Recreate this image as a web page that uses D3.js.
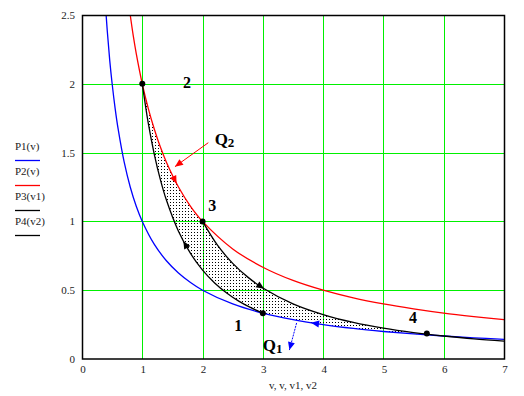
<!DOCTYPE html>
<html>
<head>
<meta charset="utf-8">
<script src="https://cdn.jsdelivr.net/npm/d3@7"></script>
<style>
  body { margin: 0; background: #fff; }
</style>
</head>
<body>
<script>
const overallWidth = 524
const overallHeight = 396
const margin = { left: 82, top: 15, right: 20, bottom: 37 }
const width = overallWidth - margin.left - margin.right
const height = overallHeight - margin.top - margin.bottom

// isotherm P1(v), blue
const blueV = [0.38, 0.42, 0.46, 0.5, 0.55, 0.6, 0.7, 0.8, 0.9, 1, 1.2, 1.4, 1.6, 1.8, 2, 2.5, 3, 3.5, 4, 4.5, 5, 5.5, 6, 6.5, 7]
const blueP = [2.63, 2.38, 2.17, 2.0, 1.82, 1.67, 1.43, 1.25, 1.11, 1.0, 0.833, 0.714, 0.625, 0.556, 0.5, 0.4, 0.333, 0.286, 0.25, 0.222, 0.2, 0.182, 0.167, 0.154, 0.143]
// isotherm P2(v), red
const redV = [0.76, 0.8, 0.85, 0.9, 1, 1.1, 1.2, 1.3, 1.4, 1.6, 1.8, 2, 2.5, 3, 3.5, 4, 4.5, 5, 5.5, 6, 6.5, 7]
const redP = [2.63, 2.5, 2.35, 2.22, 2.0, 1.82, 1.67, 1.54, 1.43, 1.25, 1.11, 1.0, 0.8, 0.667, 0.571, 0.5, 0.444, 0.4, 0.364, 0.333, 0.308, 0.286]
// adiabat P3(v1), black, 2 -> 1
const p3V = [1, 1.1, 1.2, 1.3, 1.4, 1.6, 1.8, 2, 2.2, 2.4, 2.6, 2.8, 3]
const p3P = [2.0, 1.712, 1.486, 1.304, 1.155, 0.929, 0.767, 0.646, 0.553, 0.48, 0.421, 0.373, 0.333]
// adiabat P4(v2), black, 3 -> 4
const p4V = [2, 2.25, 2.5, 2.75, 3, 3.5, 4, 4.5, 5, 5.5, 6, 6.5, 7]
const p4P = [1.0, 0.825, 0.695, 0.595, 0.516, 0.401, 0.323, 0.266, 0.224, 0.192, 0.167, 0.146, 0.13]

const xTicks = [0, 1, 2, 3, 4, 5, 6, 7]
const yTicks = [0, 0.5, 1, 1.5, 2, 2.5]
const legendNames = ['P1(v)', 'P2(v)', 'P3(v1)', 'P4(v2)']
const legendColors = ['#0000ff', '#ff0000', '#000', '#000']

const dotV = [1, 2, 3, 5.72]
const dotP = [2, 1, 0.333, 0.185]
const stateNames = ['2', '3', '1', '4']
const stateV = [1.74, 2.16, 2.59, 5.49]
const stateP = [2.013, 1.119, 0.243, 0.298]

// arrows: [fromV, fromP, toV, toP]
const arrowColors = ['#ff0000', '#ff0000', '#000', '#000', '#0000ff', '#0000ff']
const arrowSpans = [
  [1.45, 1.379, 1.57, 1.274],
  [2.095, 1.572, 1.542, 1.398],
  [1.8, 0.767, 1.68, 0.858],
  [2.9, 0.546, 3.02, 0.51],
  [3.95, 0.253, 3.8, 0.263],
  [3.56, 0.262, 3.44, 0.065]
]
const arrowShaft = [false, true, false, false, false, true]

const x = d3.scaleLinear().domain([0, 7]).range([0, width])
const y = d3.scaleLinear().domain([0, 2.5]).range([height, 0])

const zip = (vs, ps) => vs.map((v, i) => [v, ps[i]])
const blue = zip(blueV, blueP)
const red = zip(redV, redP)
const p3 = zip(p3V, p3P)
const p4 = zip(p4V, p4P)

const line = d3.line()
  .x(d => x(d[0]))
  .y(d => y(d[1]))
  .curve(d3.curveCatmullRom.alpha(0.5))

const svg = d3.select('body').append('svg')
  .attr('width', overallWidth)
  .attr('height', overallHeight)
  .style('font-family', '"Liberation Serif", serif')

const defs = svg.append('defs')
defs.append('clipPath').attr('id', 'plot')
  .append('rect').attr('width', width).attr('height', height)
const pat = defs.append('pattern').attr('id', 'dots')
  .attr('patternUnits', 'userSpaceOnUse')
  .attr('width', 3).attr('height', 3)
pat.append('rect').attr('x', 1).attr('y', 1).attr('width', 1).attr('height', 1).attr('fill', '#000')

const g = svg.append('g').attr('transform', `translate(${margin.left},${margin.top})`)

// green grid
g.append('g').selectAll('line')
  .data(xTicks.slice(1, -1)).enter().append('line')
  .attr('x1', d => Math.round(x(d)) + 0.5).attr('x2', d => Math.round(x(d)) + 0.5)
  .attr('y1', 0).attr('y2', height)
  .attr('stroke', '#00f000')
  .attr('shape-rendering', 'crispEdges')
g.append('g').selectAll('line')
  .data(yTicks.slice(1, -1)).enter().append('line')
  .attr('y1', d => Math.round(y(d)) + 0.5).attr('y2', d => Math.round(y(d)) + 0.5)
  .attr('x1', 0).attr('x2', width)
  .attr('stroke', '#00f000')
  .attr('shape-rendering', 'crispEdges')

// shaded cycle area
const seg = pts => line(pts)
const upper = red.filter(d => d[0] >= 1 && d[0] <= 2)
const upper2 = p4.filter(d => d[0] >= 2 && d[0] <= 6)
const lower = blue.filter(d => d[0] >= 3 && d[0] <= 6).reverse()
const lower2 = p3.filter(d => d[0] <= 3).reverse()
const cyc = [upper, upper2, lower, lower2]
  .map((pts, i) => i === 0 ? seg(pts) : seg(pts).replace(/^M/, 'L'))
  .join('') + 'Z'
g.append('path').attr('d', cyc).attr('fill', 'url(#dots)')

// curves
const curves = g.append('g').attr('clip-path', 'url(#plot)')
curves.selectAll('path')
  .data([[blue, '#0000ff'], [red, '#ff0000'], [p3, '#000'], [p4, '#000']])
  .enter().append('path')
  .attr('d', d => line(d[0]))
  .attr('fill', 'none')
  .attr('stroke', d => d[1])
  .attr('stroke-width', 1.3)

// arrows
arrowSpans.forEach((s, i) => {
  const x0 = x(s[0])
  const y0 = y(s[1])
  const x1 = x(s[2])
  const y1 = y(s[3])
  const a = Math.atan2(y1 - y0, x1 - x0) * 180 / Math.PI
  if (arrowShaft[i]) {
    g.append('line')
      .attr('x1', x0).attr('y1', y0).attr('x2', x1).attr('y2', y1)
      .attr('stroke', arrowColors[i])
      .attr('stroke-width', 1)
      .attr('stroke-dasharray', i === 5 ? '2,1' : null)
  }
  g.append('path')
    .attr('d', 'M0,0L-8,-3.5L-8,3.5Z')
    .attr('fill', arrowColors[i])
    .attr('transform', `translate(${x1},${y1}) rotate(${a})`)
})

// state points
g.append('g').selectAll('circle')
  .data(dotV).enter().append('circle')
  .attr('cx', (d, i) => x(d))
  .attr('cy', (d, i) => y(dotP[i]))
  .attr('r', 3)
  .attr('fill', '#000')

g.append('g').selectAll('text')
  .data(stateNames).enter().append('text')
  .attr('x', (d, i) => x(stateV[i]))
  .attr('y', (d, i) => y(stateP[i]))
  .attr('text-anchor', 'middle')
  .attr('dominant-baseline', 'central')
  .style('font-size', '16px')
  .style('font-weight', 'bold')
  .text(d => d)

const qlabel = (v, p, sub) => {
  const t = g.append('text')
    .attr('x', x(v)).attr('y', y(p))
    .attr('dominant-baseline', 'central')
    .style('font-size', '17px')
    .style('font-weight', 'bold')
  t.append('tspan').text('Q')
  t.append('tspan').attr('dy', 3).style('font-size', '13px').text(sub)
}
qlabel(2.2, 1.6, '2')
qlabel(3.0, 0.1, '1')

// frame
g.append('rect')
  .attr('x', 0.5).attr('y', 0.5)
  .attr('width', width).attr('height', height - 0.5)
  .attr('fill', 'none')
  .attr('stroke', '#000')
  .attr('stroke-width', 1.5)

// tick labels
g.append('g').selectAll('text')
  .data(xTicks).enter().append('text')
  .attr('x', d => x(d) + 1)
  .attr('y', height + 14)
  .attr('text-anchor', 'middle')
  .style('font-size', '11px')
  .style('fill', '#222')
  .text(d => d)
g.append('g').selectAll('text')
  .data(yTicks).enter().append('text')
  .attr('x', -7)
  .attr('y', d => y(d) + 4)
  .attr('text-anchor', 'end')
  .style('font-size', '11px')
  .style('fill', '#222')
  .text(d => d)

svg.append('text')
  .attr('x', margin.left + 211)
  .attr('y', 389)
  .attr('text-anchor', 'middle')
  .style('font-size', '11px')
  .style('fill', '#222')
  .text('v, v, v1, v2')

// legend
const lg = svg.append('g').selectAll('g')
  .data(legendNames).enter().append('g')
  .attr('transform', (d, i) => `translate(15,${150 + i * 25})`)
lg.append('text')
  .style('font-size', '11px')
  .style('fill', '#222')
  .text(d => d)
lg.append('line')
  .attr('x1', 0).attr('x2', 25)
  .attr('y1', 10.5).attr('y2', 10.5)
  .attr('stroke', (d, i) => legendColors[i])
  .attr('stroke-width', 1.3)
</script>
</body>
</html>
